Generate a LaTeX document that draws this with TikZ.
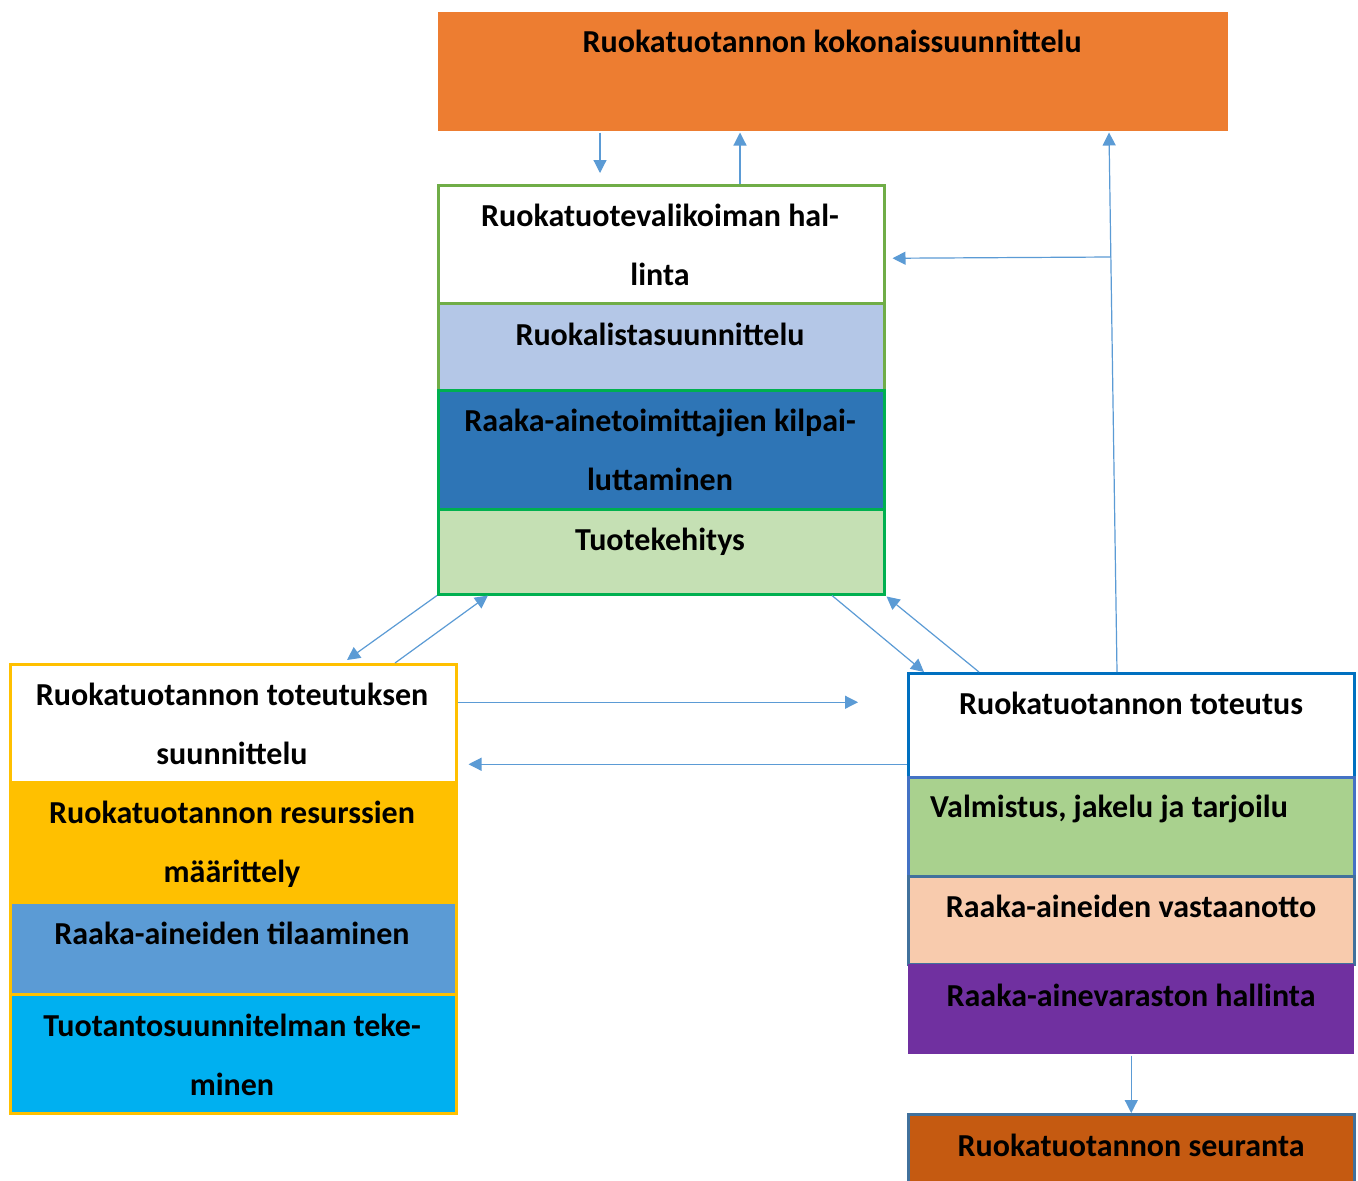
\documentclass[tikz,border=0pt]{standalone}
\usepackage{fontspec}
\setmainfont{Carlito}
\usetikzlibrary{arrows.meta}

\definecolor{cTop}{HTML}{ED7D31}
\definecolor{cLeaf}{HTML}{70AD47}
\definecolor{cGreen}{HTML}{00B050}
\definecolor{cPale}{HTML}{B4C7E7}
\definecolor{cDeep}{HTML}{2E75B6}
\definecolor{cMint}{HTML}{C5E0B4}
\definecolor{cGold}{HTML}{FFC000}
\definecolor{cSky}{HTML}{5B9BD5}
\definecolor{cCyan}{HTML}{00B0F0}
\definecolor{cBlue}{HTML}{0070C0}
\definecolor{cRoyal}{HTML}{4472C4}
\definecolor{cSteel}{HTML}{41719C}
\definecolor{cLime}{HTML}{A9D18E}
\definecolor{cPeach}{HTML}{F8CBAD}
\definecolor{cPurple}{HTML}{7030A0}
\definecolor{cRust}{HTML}{C55A11}

\tikzset{
  cell/.style={rectangle, anchor=north west, inner sep=0pt, line width=2.5pt,
               minimum width=446pt},
  % base anchor sits on the last line of a multi-line label
  label text/.style={anchor=base, inner sep=0pt, align=center,
               font=\fontsize{32}{59}\selectfont\bfseries},
  arr/.style={draw=cSky, line width=1.2pt, -{Triangle[length=13pt,width=13pt]}},
}

\begin{document}
\begin{tikzpicture}[x=1pt, y=-1pt]
\clip (0,0) rectangle (1358,1181);
\fill[white] (0,0) rectangle (1358,1181);

% overall planning box
\node (top) [cell, fill=cTop, minimum width=790pt, minimum height=119pt] at (437,11) {};
\node (topT) [label text] at (832,52) {Ruokatuotannon kokonaissuunnittelu};

% product range management group
\node (g1) [cell, fill=white, draw=cLeaf, minimum height=118pt] at (437,184) {};
\node (g2) [cell, fill=cPale, draw=cLeaf, minimum height=87pt] at (437,302) {};
\node (g3) [cell, fill=cDeep, draw=cGreen, minimum height=119pt] at (437,389) {};
\node (g4) [cell, fill=cMint, draw=cGreen, minimum height=85pt] at (437,508) {};
\node (g1T) [label text] at (660,285) {Ruokatuotevalikoiman hal-\\linta};
\node (g2T) [label text] at (660,345) {Ruokalistasuunnittelu};
\node (g3T) [label text] at (660,490) {Raaka-ainetoimittajien kilpai-\\luttaminen};
\node (g4T) [label text] at (660,550) {Tuotekehitys};

% implementation planning group
\node (l1) [cell, fill=white, draw=cGold, minimum height=118pt] at (9,663) {};
\node (l2) [cell, fill=cGold, draw=cGold, minimum height=120pt] at (9,781) {};
\node (l3) [cell, fill=cSky, draw=cGold, minimum height=92pt] at (9,901) {};
\node (l4) [cell, fill=cCyan, draw=cGold, minimum height=119pt] at (9,993) {};
\node (l1T) [label text] at (232,764) {Ruokatuotannon toteutuksen\\suunnittelu};
\node (l2T) [label text] at (232,882) {Ruokatuotannon resurssien\\määrittely};
\node (l3T) [label text] at (232,944) {Raaka-aineiden tilaaminen};
\node (l4T) [label text] at (232,1095) {Tuotantosuunnitelman teke-\\minen};

% implementation group
\node (r1) [cell, fill=white, draw=cBlue, minimum height=104pt] at (907,672) {};
\node (r2) [cell, fill=cLime, draw=cRoyal, minimum height=99pt] at (907,776) {};
\node (r3) [cell, fill=cPeach, draw=cSteel, minimum height=88pt] at (907,875) {};
\node (r4) [cell, fill=cPurple, minimum height=90pt] at (907,963) {};
\node (r1T) [label text] at (1131,714) {Ruokatuotannon toteutus};
\node (r2T) [label text] at (1109,817) {Valmistus, jakelu ja tarjoilu};
\node (r3T) [label text] at (1131,917) {Raaka-aineiden vastaanotto};
\node (r4T) [label text] at (1131,1006) {Raaka-ainevaraston hallinta};

% follow-up box
\node (bot) [cell, fill=cRust, draw=cSteel, minimum height=100pt] at (907,1113) {};
\node (botT) [label text] at (1131,1156) {Ruokatuotannon seuranta};

% connectors
\draw[arr] ([xshift=163pt]top.south west) -- ([xshift=163pt,yshift=11pt]g1.north west);
\draw[arr] ([xshift=303pt]g1.north west) -- ([xshift=303pt]top.south west);
\draw[arr] ([xshift=210pt]r1.north west) -- ([xshift=672pt]top.south west);
\coordinate (j) at (1111,257);
\draw[arr] (j) -- ([xshift=7pt,yshift=-14pt]g1.east);
\draw[arr] (g4.south west) -- ([xshift=338pt,yshift=3pt]l1.north west);
\draw[arr] ([xshift=386pt]l1.north west) -- ([xshift=51pt]g4.south west);
\draw[arr] ([xshift=395pt]g4.south west) -- ([xshift=17pt]r1.north west);
\draw[arr] ([xshift=72pt]r1.north west) -- ([xshift=1pt,yshift=-1pt]g4.south east);
\draw[arr] ([yshift=21pt]l1.east) -- ([xshift=-49pt,yshift=23pt]r1.west);
\draw[arr] ([yshift=-39pt]r1.west) -- ([xshift=11pt,yshift=-41pt]l1.east);
\draw[arr] (r4.south) -- (bot.north);
\end{tikzpicture}
\end{document}
